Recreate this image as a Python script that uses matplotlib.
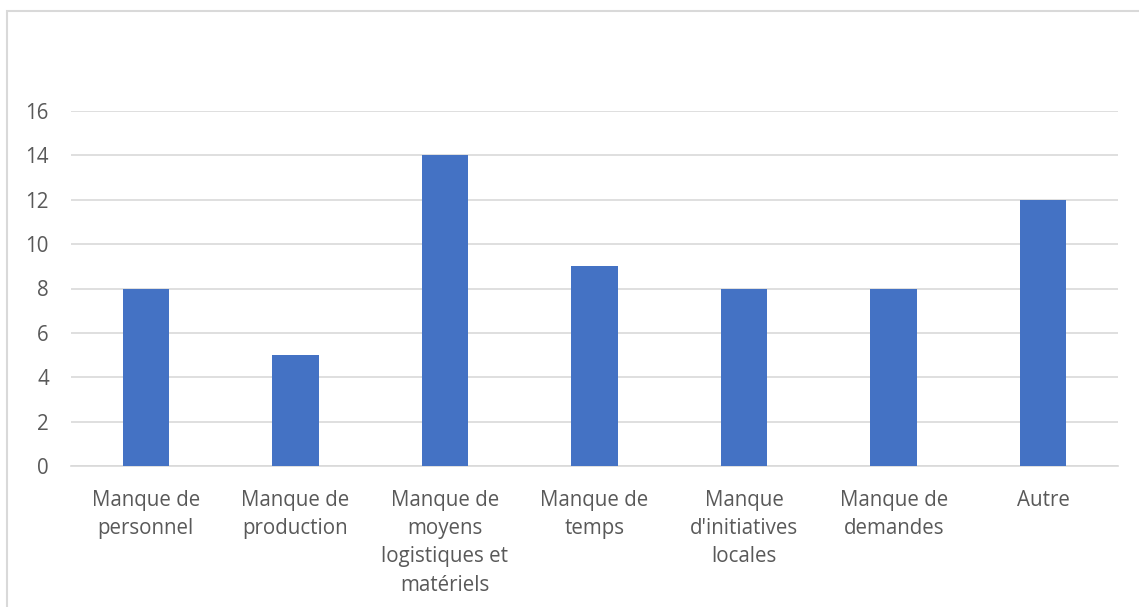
import matplotlib
matplotlib.use("Agg")
import matplotlib.pyplot as plt
from matplotlib.patches import Rectangle

categories = [
    "Manque de\npersonnel",
    "Manque de\nproduction",
    "Manque de\nmoyens\nlogistiques et\nmatériels",
    "Manque de\ntemps",
    "Manque\nd'initiatives\nlocales",
    "Manque de\ndemandes",
    "Autre",
]
values = [8, 5, 14, 9, 8, 8, 12]
yticks = [0, 2, 4, 6, 8, 10, 12, 14, 16]

W, H = 1139, 607
fig = plt.figure(figsize=(W / 100, H / 100), dpi=100)
plt.rcParams["font.family"] = ["Open Sans", "DejaVu Sans"]

# chart frame
fig.patches.append(Rectangle((7 / W, -0.1), 1.2, 1 - 11 / H + 0.1,
                             transform=fig.transFigure, fill=False,
                             edgecolor="#d9d9d9", linewidth=1.5))

left, right = 71 / W, 1118 / W
bottom, top = 1 - 466 / H, 1 - 111 / H
ax = fig.add_axes([left, bottom, right - left, top - bottom])

x = list(range(len(categories)))
ax.bar(x, values, width=0.31, color="#4472C4", zorder=3)
ax.set_xlim(-0.5, len(categories) - 0.5)
ax.set_ylim(0, 16)
ax.set_yticks(yticks)
ax.set_yticklabels([str(t) for t in yticks])
ax.set_xticks(x)
ax.set_xticklabels(categories, linespacing=1.46)
ax.grid(axis="y", color="#d9d9d9", linewidth=1.2, zorder=0)
for s in ["top", "right", "left"]:
    ax.spines[s].set_visible(False)
ax.spines["bottom"].set_color("#d9d9d9")
ax.spines["bottom"].set_linewidth(1.2)
ax.tick_params(axis="both", length=0, labelsize=14.8, labelcolor="#595959")
ax.tick_params(axis="x", pad=17)
ax.tick_params(axis="y", pad=16)
for lbl in ax.get_yticklabels():
    lbl.set_horizontalalignment("right")

fig.savefig("out.png", dpi=100)
